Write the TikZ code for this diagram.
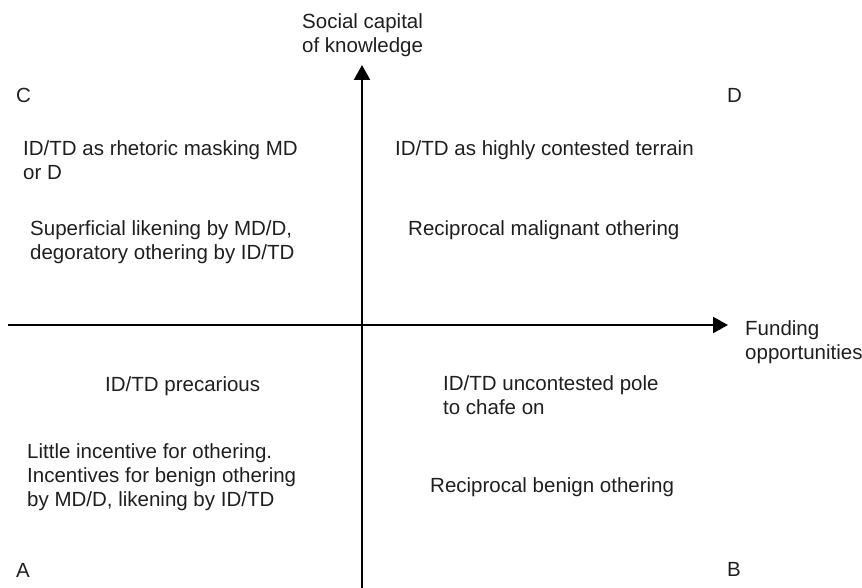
\documentclass[tikz,border=0pt]{standalone}
\usepackage{fontspec}
\setmainfont{Liberation Sans}
\usepackage{tikz}
\usetikzlibrary{
	arrows.meta,
	positioning
}

\begin{document}
\begin{tikzpicture}[
					x=1pt, y=-1pt,
					txt/.style={
							anchor=north west,
							inner sep=0pt,
							font=\fontsize{20.5}{24.3}\selectfont,
							text=black!88,
							align=left
						},
					axis/.style={
							line width=2.4pt,
							-{Triangle[length=15pt,width=16pt]}
						}
				]
				\useasboundingbox (0,0) rectangle (862,588);

				% axes
				\coordinate (ybot) at (362,588);
				\coordinate (ytop) at (362,65);
				\coordinate (xleft) at (8,325);
				\coordinate (xright) at (728,325);
				\draw[axis] (ybot) -- (ytop);
				\draw[axis] (xleft) -- (xright);

				\node[txt] (yLabel) at (302,13) {Social capital\\of knowledge};
				\node[txt] (xLabel) at (745,320) {Funding\\opportunities};

				% corners
				\node[txt] (C) at (16,88) {C};
				\node[txt] (D) at (727,88) {D};
				\node[txt] (A) at (16,563) {A};
				\node[txt] (B) at (727,562) {B};

				% quadrant C
				\node[txt] (C1) at (23,140) {ID/TD as rhetoric masking MD\\or D};
				\node[txt] (C2) at (30,220) {Superficial likening by MD/D,\\degoratory othering by ID/TD};

				% quadrant D
				\node[txt] (D1) at (395,140) {ID/TD as highly contested terrain};
				\node[txt] (D2) at (408,220) {Reciprocal malignant othering};

				% quadrant A
				\node[txt] (A1) at (105,376) {ID/TD precarious};
				\node[txt] (A2) at (27,443) {Little incentive for othering.\\Incentives for benign othering\\by MD/D, likening by ID/TD};

				% quadrant B
				\node[txt] (B1) at (443,375) {ID/TD uncontested pole\\to chafe on};
				\node[txt] (B2) at (430,477) {Reciprocal benign othering};
		\end{tikzpicture}
\end{document}
